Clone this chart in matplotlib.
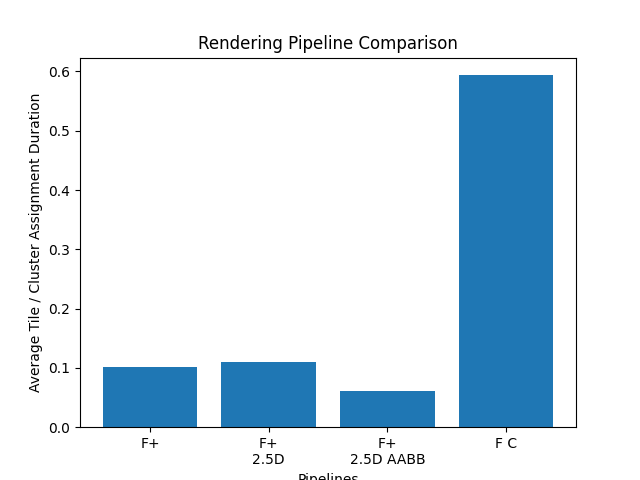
import matplotlib
matplotlib.use('Agg')
import matplotlib.pyplot as plt

pipelines = ['F+', 'F+\n2.5D', 'F+\n2.5D AABB', 'F C']
durations = [0.101, 0.1096, 0.0607, 0.5936]

fig, ax = plt.subplots(figsize=(6.4, 4.8), dpi=100)
ax.bar(pipelines, durations)
ax.set_title('Rendering Pipeline Comparison')
ax.set_xlabel('Pipelines')
ax.set_ylabel('Average Tile / Cluster Assignment Duration')
fig.savefig('out.png')
